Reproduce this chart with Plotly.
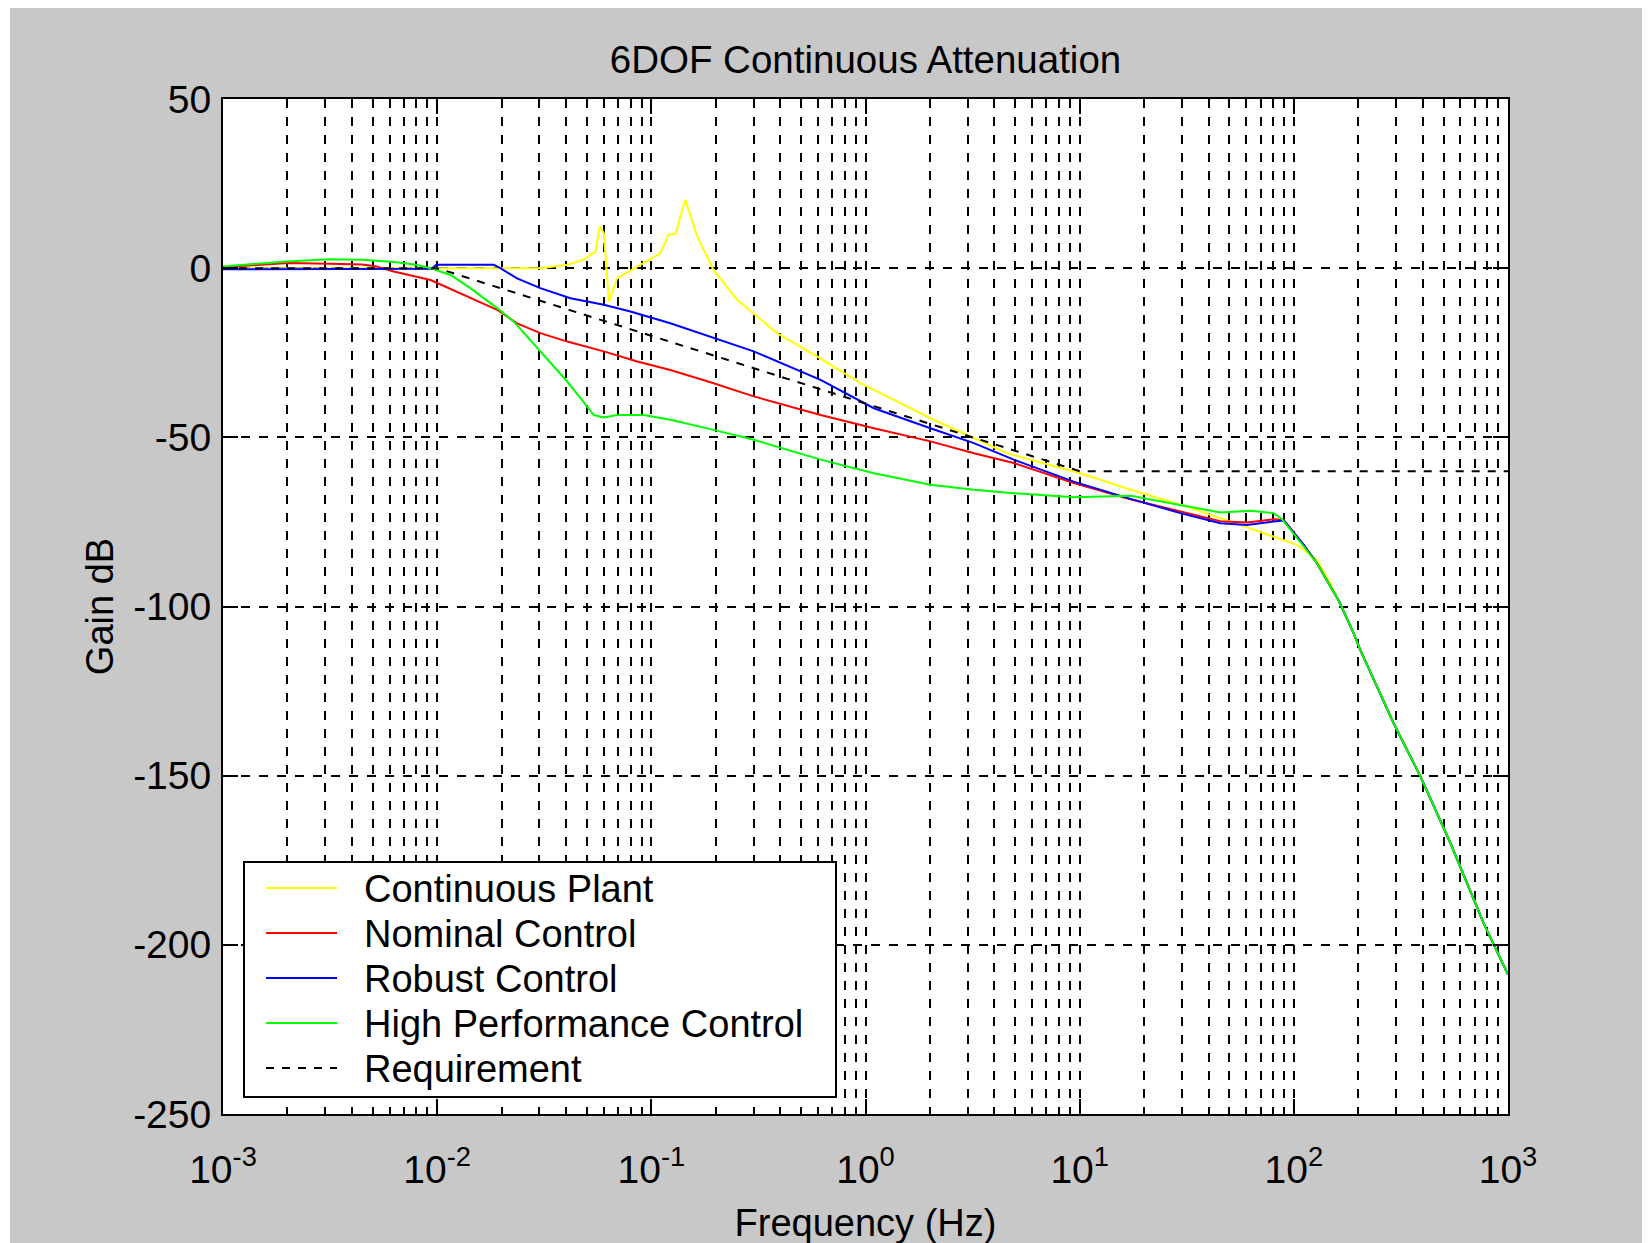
import numpy as np
import plotly.graph_objects as go

# ---------------- data ----------------
plant_f = [0.001, 0.0303, 0.0405, 0.0483, 0.0548, 0.0575, 0.0600, 0.0634, 0.0692,
           0.0889, 0.110, 0.120, 0.130, 0.144, 0.164, 0.195, 0.252, 0.386, 0.594,
           0.946, 2.08, 4.58, 10.07, 17.3, 29.5, 50.7, 83.6, 103.5, 128.2, 147.9,
           162.2, 190.5, 204.2, 292.4, 389.9, 538.3, 769.1, 1000]
plant_db = [0, 0, 1.0, 2.5, 4.9, 12.3, 10.3, -9.9, -3.0,
            1.0, 4.4, 9.8, 10.3, 20.2, 9.3, -0.5, -9.4, -19.2, -26.1,
            -34.0, -44.8, -54.7, -60.6, -65.5, -69.9, -74.9, -79.8, -81.8, -86.2, -93.1,
            -98.3, -108.0, -112.8, -134.5, -150.2, -169.9, -193.6, -208.8]

nominal_f = [0.001, 0.001445, 0.001995, 0.003162, 0.004467, 0.005129, 0.006266, 0.009311,
             0.0133, 0.01905, 0.0236, 0.03034, 0.04046, 0.05998, 0.0859, 0.1227, 0.1954,
             0.3006, 0.6166, 1.094, 2.009, 3.206, 4.92, 9.376, 17.26, 29.51, 45.39, 60.53,
             80.54, 89.74, 111.2, 128.2, 147.9, 162.2, 190.5, 204.2, 292.4, 389.9, 538.3,
             769.1, 1000]
nominal_db = [0.3, 1.0, 1.5, 1.3, 1.1, 0.6, -1.0, -3.5,
              -7.9, -12.3, -16.3, -19.2, -21.7, -24.6, -27.6, -30.1, -34.0,
              -37.9, -43.4, -47.3, -51.2, -54.7, -57.6, -63.5, -68.3, -72.0, -74.8, -75.2,
              -74.2, -74.4, -81.8, -87.2, -94.0, -98.3, -108.0, -112.8, -134.5, -150.2, -169.9,
              -193.6, -208.8]

robust_f = [0.001, 0.00944, 0.00989, 0.01837, 0.01972, 0.0236, 0.0303, 0.0419, 0.0600,
            0.0798, 0.1227, 0.1954, 0.3006, 0.6166, 1.094, 2.009, 3.206, 4.92, 9.376,
            17.26, 29.51, 45.39, 60.53, 80.54, 89.74, 111.2, 128.2, 147.9, 162.2, 190.5,
            204.2, 292.4, 389.9, 538.3, 769.1, 1000]
robust_db = [-0.3, -0.2, 1.0, 1.0, 0.0, -3.0, -5.9, -8.9, -10.8,
             -12.8, -16.3, -20.7, -24.6, -33.0, -41.4, -47.3, -51.7, -56.6, -63.1,
             -68.2, -72.4, -75.4, -75.9, -74.9, -74.6, -81.8, -87.2, -94.0, -98.3, -108.0,
             -112.8, -134.5, -150.2, -169.9, -193.6, -208.8]

highperf_f = [0.001, 0.001413, 0.001995, 0.003162, 0.004467, 0.00631, 0.007943, 0.009333,
              0.01153, 0.01429, 0.01905, 0.0228, 0.02729, 0.03266, 0.04046, 0.04667, 0.05383,
              0.05998, 0.06918, 0.09226, 0.1227, 0.1954, 0.3006, 0.6166, 1.094, 2.009, 3.206,
              4.92, 9.376, 17.26, 29.51, 45.39, 63.1, 80.54, 88.1, 111.2, 128.2, 147.9, 162.2,
              190.5, 204.2, 292.4, 389.9, 538.3, 769.1, 1000]
highperf_db = [0.5, 1.3, 2.0, 2.6, 2.5, 1.8, 1.0, 0.0,
               -2.0, -5.9, -11.8, -15.8, -21.3, -26.8, -33.5, -38.4, -43.4,
               -44.1, -43.4, -43.4, -44.8, -47.8, -50.7, -56.6, -60.6, -64.0, -65.5,
               -66.5, -67.7, -67.3, -69.9, -72.2, -71.7, -72.4, -74.2, -82.3, -87.2, -94.0, -98.3,
               -108.0, -112.8, -134.5, -150.2, -169.9, -193.6, -208.8]

requirement_f = [0.001, 0.01, 10, 1000]
requirement_db = [0, 0, -60, -60]

series_names = ["Continuous Plant", "Nominal Control", "Robust Control",
                "High Performance Control", "Requirement"]
series_colors = ["#ffff00", "#ff0000", "#0000ff", "#00ff00", "#000000"]
series_dash = ["solid", "solid", "solid", "solid", "8px,8px"]
series_f = [plant_f, nominal_f, robust_f, highperf_f, requirement_f]
series_db = [plant_db, nominal_db, robust_db, highperf_db, requirement_db]

x_tick_vals = [1e-3, 1e-2, 1e-1, 1e0, 1e1, 1e2, 1e3]
x_tick_text = ["10<sup>-3</sup>", "10<sup>-2</sup>", "10<sup>-1</sup>", "10<sup>0</sup>",
               "10<sup>1</sup>", "10<sup>2</sup>", "10<sup>3</sup>"]
y_tick_vals = [50, 0, -50, -100, -150, -200, -250]
y_tick_text = ["50", "0", "-50", "-100", "-150", "-200", "-250"]

title_text = "6DOF Continuous Attenuation"
x_title = "Frequency (Hz)"
y_title = "Gain dB"

# ---------------- layout geometry ----------------
# the page puts the figure 8 px from the window's top-left corner
OFF = 8
W, H = 1650, 1243
ML, MT = 223 - OFF, 99 - OFF
PW, PH = 1285, 1015
MR = W - ML - PW
MB = H - MT - PH
FONT = "Liberation Sans, Arial, Helvetica, sans-serif"
BG = "#c8c8c8"


def px(x):
    """window x pixel -> paper x"""
    return (x - OFF - ML) / PW


def py(y):
    """window y pixel -> paper y"""
    return (MT + PH - (y - OFF)) / PH


minor_vals = [m * 10.0 ** k for k in range(-3, 3) for m in range(2, 10)]

fig = go.Figure()
for f, db, name, color, dash in zip(series_f, series_db, series_names, series_colors, series_dash):
    fig.add_trace(go.Scatter(x=f, y=db, mode="lines", name=name, showlegend=False,
                             line=dict(color=color, width=2, dash=dash)))

grid_style = dict(showgrid=True, gridcolor="black", gridwidth=2, griddash="9px,9px")
axis_common = dict(showline=True, linecolor="black", linewidth=2, mirror="ticks",
                   ticks="inside", tickcolor="black", tickwidth=1.5, ticklen=15,
                   zeroline=False, tickfont=dict(family=FONT, size=39, color="black"),
                   **grid_style)

shapes = [
    # thin white strip at the left edge of the window
    dict(type="rect", xref="paper", yref="paper", layer="below",
         x0=px(OFF), x1=px(10), y0=py(H + OFF), y1=py(OFF), fillcolor="white",
         line=dict(width=0)),
    # legend box
    dict(type="rect", xref="paper", yref="paper", layer="above",
         x0=px(244), x1=px(836), y0=py(1097), y1=py(862),
         fillcolor="white", line=dict(color="black", width=2)),
]
annotations = []
row_y0, row_step = 888, 45
for i, (name, color, dash) in enumerate(zip(series_names, series_colors, series_dash)):
    yy = row_y0 + i * row_step
    shapes.append(dict(type="line", xref="paper", yref="paper", layer="above",
                       x0=px(266), x1=px(337), y0=py(yy), y1=py(yy),
                       line=dict(color=color, width=2, dash=dash)))
    annotations.append(dict(text=name, xref="paper", yref="paper", x=px(362), y=py(yy + 1),
                            xanchor="left", yanchor="middle", showarrow=False,
                            font=dict(family=FONT, size=38, color="black")))

fig.update_layout(
    width=W, height=H,
    margin=dict(l=ML, r=MR, t=MT, b=MB, autoexpand=False),
    paper_bgcolor=BG, plot_bgcolor="white",
    title=dict(text=title_text, x=0.5, xref="paper", xanchor="center",
               y=1 - (60 - OFF) / H, yref="container", yanchor="middle",
               font=dict(family=FONT, size=38.5, color="black")),
    xaxis=dict(type="log", range=[-3, 3], tickmode="array",
               tickvals=x_tick_vals, ticktext=x_tick_text,
               minor=dict(tickmode="array", tickvals=minor_vals, ticks="inside", ticklen=7,
                          tickcolor="black", tickwidth=1.5, **grid_style),
               title=dict(text=x_title, standoff=20,
                          font=dict(family=FONT, size=38, color="black")),
               ticklabelstandoff=20,
               **axis_common),
    yaxis=dict(range=[-250, 50], tickmode="array",
               tickvals=y_tick_vals, ticktext=y_tick_text,
               title=dict(text=y_title, standoff=8,
                          font=dict(family=FONT, size=38, color="black")),
               ticklabelstandoff=2,
               **axis_common),
    shapes=shapes,
    annotations=annotations,
    showlegend=False,
)

fig.write_html("out.html")
